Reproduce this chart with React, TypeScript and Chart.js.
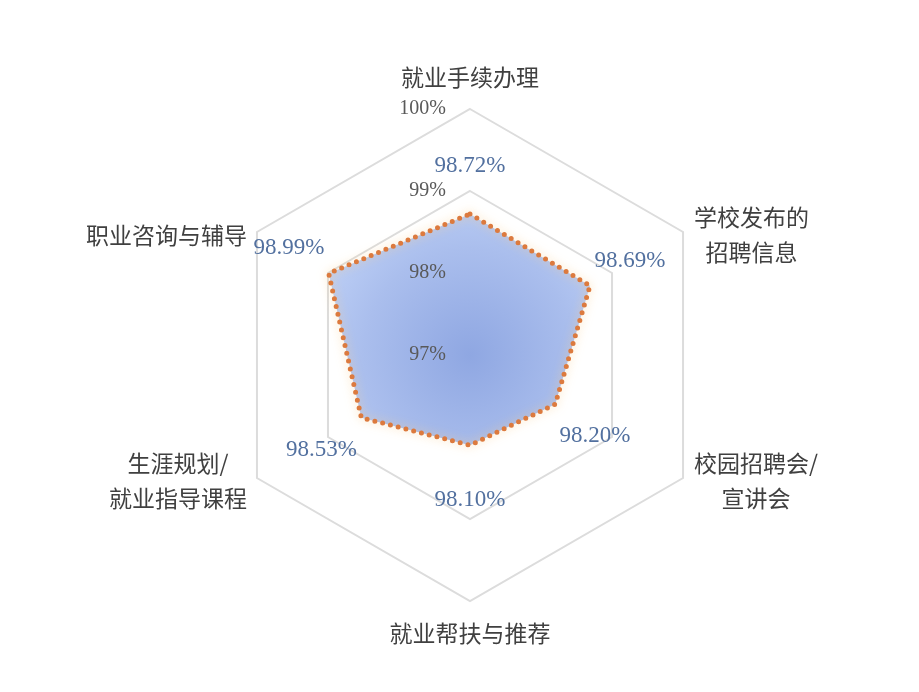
import React, { useEffect, useRef } from "react";
import { Chart, registerables } from "chart.js";

Chart.register(...registerables);

const categories: (string | string[])[] = [
  "就业手续办理",
  ["学校发布的", "招聘信息"],
  ["校园招聘会/", "宣讲会"],
  "就业帮扶与推荐",
  ["生涯规划/", "就业指导课程"],
  "职业咨询与辅导",
];
const satisfaction = [98.72, 98.69, 98.2, 98.1, 98.53, 98.99];
const tickValues = [97, 98, 99, 100];
const scaleMin = 97;
const scaleMax = 100;

const CJK_FONT = '"Noto Sans CJK SC", "Noto Sans", sans-serif';
const SERIF_FONT = '"Liberation Serif", "DejaVu Serif", serif';

const glowPlugin = {
  id: "glow",
  beforeDatasetDraw(chart: any) {
    const ctx = chart.ctx;
    ctx.save();
    ctx.shadowColor = "rgba(250, 205, 140, 0.75)";
    ctx.shadowBlur = 10;
  },
  afterDatasetDraw(chart: any) {
    chart.ctx.restore();
  },
};

const labelsPlugin = {
  id: "customLabels",
  afterDatasetsDraw(chart: any) {
    const ctx = chart.ctx;
    const scale = chart.scales.r;
    const cx = scale.xCenter;
    const cy = scale.yCenter;
    ctx.save();

    // tick labels
    ctx.font = `20px ${SERIF_FONT}`;
    ctx.fillStyle = "#595959";
    ctx.textAlign = "right";
    ctx.textBaseline = "middle";
    tickValues.forEach((v) => {
      const d = scale.getDistanceFromCenterForValue(v);
      ctx.fillText(`${v}%`, cx - 24, cy - d);
    });

    // data labels
    ctx.font = `23px ${SERIF_FONT}`;
    ctx.fillStyle = "#52709f";
    ctx.textAlign = "center";
    satisfaction.forEach((v, i) => {
      const d = scale.getDistanceFromCenterForValue(v);
      const p = scale.getPointPosition(i, d + 46);
      const shiftY = p.y > cy ? 9 : -2;
      ctx.fillText(`${v.toFixed(2)}%`, p.x, p.y + shiftY);
    });

    // category labels
    ctx.font = `23px ${CJK_FONT}`;
    ctx.fillStyle = "#404040";
    const lineH = 35;
    const outer = scale.drawingArea;
    categories.forEach((c, i) => {
      const lines = Array.isArray(c) ? c : [c];
      const widths = lines.map((l) => ctx.measureText(l).width);
      const bw = Math.max(...widths);
      const bh = lines.length * lineH;
      const v = scale.getPointPosition(i, outer);
      const dx = v.x - cx;
      let centerX: number;
      let centerY: number;
      if (Math.abs(dx) < 1) {
        const p = scale.getPointPosition(i, outer + 32);
        centerX = p.x;
        centerY = p.y;
      } else if (dx > 0) {
        centerX = v.x + 11 + bw / 2;
        centerY = v.y + 3;
      } else {
        centerX = v.x - 10 - bw / 2;
        centerY = v.y + 3;
      }
      lines.forEach((l, k) => {
        const y = centerY - bh / 2 + lineH / 2 + k * lineH;
        ctx.fillText(l, centerX, y);
      });
    });
    ctx.restore();
  },
};

export default function App() {
  const canvasRef = useRef<HTMLCanvasElement | null>(null);

  useEffect(() => {
    document.body.style.margin = "0";
    const canvas = canvasRef.current;
    if (!canvas) return;
    const chart = new Chart(canvas, {
      type: "radar",
      data: {
        labels: categories as any,
        datasets: [
          {
            data: satisfaction,
            backgroundColor: (context: any) => {
              const ch = context.chart;
              const scale = ch.scales?.r;
              if (!scale || !ch.chartArea) return "rgba(170,190,238,1)";
              const g = ch.ctx.createRadialGradient(
                scale.xCenter,
                scale.yCenter,
                0,
                scale.xCenter,
                scale.yCenter,
                scale.drawingArea * 0.72
              );
              g.addColorStop(0, "rgb(143, 167, 226)");
              g.addColorStop(0.6, "rgb(170, 190, 237)");
              g.addColorStop(1, "rgb(192, 210, 247)");
              return g;
            },
            fill: true,
            borderColor: "#dc7a3e",
            borderWidth: 5,
            borderDash: [0, 8],
            borderCapStyle: "round",
            borderJoinStyle: "round",
            pointRadius: 0,
            pointHoverRadius: 0,
            tension: 0,
          },
        ],
      },
      options: {
        animation: false,
        responsive: true,
        maintainAspectRatio: false,
        layout: {
          padding: { left: 150, right: 129, top: 109, bottom: 91 },
        },
        plugins: {
          legend: { display: false },
          tooltip: { enabled: false },
        },
        scales: {
          r: {
            min: scaleMin,
            max: scaleMax,
            ticks: { display: false, stepSize: 1 },
            grid: {
              color: "#dcdcdc",
              lineWidth: 2,
            },
            angleLines: { display: false },
            pointLabels: { display: false },
          },
        },
      },
      plugins: [glowPlugin, labelsPlugin],
    });
    return () => chart.destroy();
  }, []);

  return (
    <div
      style={{
        position: "fixed",
        left: 0,
        top: 0,
        width: 919,
        height: 692,
        background: "#ffffff",
      }}
    >
      <canvas ref={canvasRef} />
    </div>
  );
}
